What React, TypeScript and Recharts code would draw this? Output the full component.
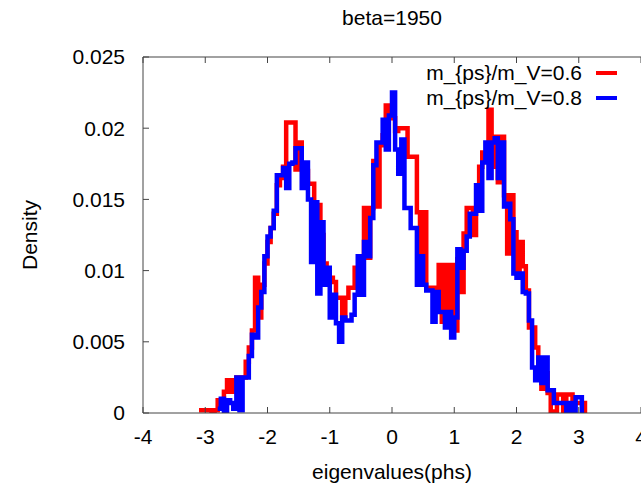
import React from 'react';
import { LineChart, Line, XAxis, YAxis, Legend } from 'recharts';

// histogram bin edges, every 0.05 from -3.10 to 3.10
const binStarts = Array.from({ length: 125 }, (_, i) => Math.round((-3.1 + 0.05 * i) * 100) / 100);

const ratio06 = [
  0.0002, 0.0002, 0.0002, 0.0002, 0, 0.0002, 0.0009, 0.0009, 0.0015, 0.0023,
  0.0015, 0.0023, 0.0025, 0.0025, 0.0025, 0.0036, 0.0046, 0.0058, 0.0095, 0.0067,
  0.009, 0.0105, 0.012, 0.013, 0.014, 0.016, 0.0165, 0.0173, 0.0204, 0.0204,
  0.0204, 0.0171, 0.019, 0.0175, 0.017, 0.0161, 0.0161, 0.0126, 0.0146, 0.0125,
  0.0105, 0.01, 0.0095, 0.0092, 0.0081, 0.0081, 0.0067, 0.0081, 0.0088, 0.0088,
  0.0102, 0.0102, 0.011, 0.0144, 0.0109, 0.0144, 0.0177, 0.0145, 0.0188, 0.0195,
  0.0216, 0.0207, 0.0207, 0.0198, 0.02, 0.02, 0.02, 0.018, 0.018, 0.018,
  0.0141, 0.011, 0.0141, 0.0088, 0.0088, 0.0088, 0.0088, 0.0104, 0.0064, 0.0104,
  0.0069, 0.0104, 0.0058, 0.0108, 0.0085, 0.0126, 0.0144, 0.0144, 0.0125, 0.0144,
  0.0173, 0.0183, 0.0183, 0.0213, 0.0173, 0.0194, 0.0162, 0.0194, 0.0153, 0.0112,
  0.0153, 0.0127, 0.0098, 0.012, 0.0103, 0.0086, 0.006, 0.006, 0.0046, 0.0028,
  0.0017, 0.0028, 0.0014, 0.0001, 0.0001, 0.0013, 0.0013, 0.0001, 0.0013, 0.0013,
  0.0007, 0.0007, 0.0007, 0.0007, 0,
];

const ratio08 = [
  null, null, null, null, null, null, 0.0003, 0.001, 0.0001, 0.0009,
  0.0007, 0.0003, 0.0025, 0.0002, 0.0025, 0.0025, 0.004, 0.0055, 0.0053, 0.0074,
  0.0085, 0.011, 0.0124, 0.013, 0.0142, 0.0167, 0.0167, 0.0172, 0.0158, 0.0175,
  0.0176, 0.0186, 0.0186, 0.0158, 0.0176, 0.015, 0.0106, 0.0148, 0.0084, 0.0134,
  0.009, 0.0102, 0.0067, 0.0083, 0.0063, 0.005, 0.0067, 0.0065, 0.0065, 0.0069,
  0.0083, 0.011, 0.0083, 0.012, 0.011, 0.0137, 0.0174, 0.019, 0.019, 0.0206,
  0.0185, 0.0209, 0.0225, 0.0185, 0.0168, 0.0192, 0.0144, 0.0144, 0.013, 0.013,
  0.009, 0.011, 0.009, 0.0086, 0.0086, 0.0064, 0.0085, 0.0071, 0.0071, 0.006,
  0.0071, 0.0053, 0.0067, 0.0115, 0.0102, 0.0114, 0.0124, 0.014, 0.014, 0.016,
  0.0142, 0.0176, 0.019, 0.0165, 0.019, 0.0193, 0.0165, 0.019, 0.0145, 0.0147,
  0.0136, 0.0098, 0.0095, 0.0098, 0.0085, 0.0084, 0.0065, 0.0032, 0.0023, 0.0039,
  0.0021, 0.0039, 0.0016, 0.0016, 0.0007, 0.0007, 0.0007, 0.0007, 0, 0.0007,
  0, 0.0011, 0.0011, 0, null,
];

const xTicks = [-4, -3, -2, -1, 0, 1, 2, 3, 4];
const yTicks = [0, 0.005, 0.01, 0.015, 0.02, 0.025];
const yTickLabels = ['0', '0.005', '0.01', '0.015', '0.02', '0.025'];
const X_DOMAIN: [number, number] = [-4, 4];
const Y_MAX = 0.025;

const data = binStarts.map((x, i) => ({ x, r06: ratio06[i], r08: ratio08[i] }));

// layout
const CHART_W = 700;
const CHART_H = 486;
const MARGIN = { top: 57, right: 59, bottom: 0, left: 0 };
const Y_AXIS_W = 143;
const X_AXIS_H = 73;
const PLOT_LEFT = MARGIN.left + Y_AXIS_W;
const PLOT_W = CHART_W - PLOT_LEFT - MARGIN.right;
const FONT = 21;
const BORDER = '#444';

const tickX = (t: number) => PLOT_LEFT + ((t - X_DOMAIN[0]) / (X_DOMAIN[1] - X_DOMAIN[0])) * PLOT_W;

const GnuLegend = ({ payload }: any) => (
  <div style={{ width: 260, fontSize: FONT }}>
    {(payload || []).map((p: any) => (
      <div key={p.value} style={{ display: 'flex', justifyContent: 'flex-end', alignItems: 'center', height: 25 }}>
        <span style={{ lineHeight: '25px' }}>{p.value}</span>
        <span style={{ display: 'inline-block', width: 21, height: 4, background: p.color, marginLeft: 14 }} />
      </div>
    ))}
  </div>
);

export default function App() {
  return (
    <div
      style={{
        position: 'absolute', left: 0, top: 0, width: 641, height: 486, overflow: 'hidden',
        background: '#fff', fontFamily: '"Liberation Sans", Arial, sans-serif',
      }}
    >
      <LineChart width={CHART_W} height={CHART_H} data={data} margin={MARGIN}>
        <text x={392} y={25} textAnchor="middle" fontSize={FONT} fill="#000">beta=1950</text>
        {/* top edge of the gnuplot box */}
        <rect x={PLOT_LEFT} y={MARGIN.top - 0.5} width={PLOT_W} height={1} fill={BORDER} />
        {xTicks.map((t) => (
          <rect key={t} x={tickX(t) - 0.5} y={MARGIN.top} width={1} height={6} fill={BORDER} />
        ))}
        <XAxis
          xAxisId="b"
          type="number"
          dataKey="x"
          domain={X_DOMAIN}
          ticks={xTicks}
          allowDataOverflow
          height={X_AXIS_H}
          tickSize={-6}
          tickMargin={22}
          stroke={BORDER}
          tick={{ fill: '#000', fontSize: FONT }}
          label={{
            content: () => (
              <text x={392} y={479} textAnchor="middle" fontSize={FONT} fill="#000">eigenvalues(phs)</text>
            ),
          }}
        />
        <YAxis
          yAxisId="l"
          type="number"
          domain={[0, Y_MAX]}
          ticks={yTicks}
          allowDataOverflow
          width={Y_AXIS_W}
          tickSize={-6}
          tickMargin={24}
          stroke={BORDER}
          tick={{ fill: '#000', fontSize: FONT }}
          tickFormatter={(v: number) => yTickLabels[yTicks.indexOf(v)] ?? String(v)}
          label={{
            content: () => (
              <text x={29} y={235} textAnchor="middle" dominantBaseline="central" fontSize={FONT} fill="#000"
                transform="rotate(-90 29 235)">Density</text>
            ),
          }}
        />
        <Legend
          layout="horizontal"
          verticalAlign="middle"
          align="center"
          content={<GnuLegend />}
          wrapperStyle={{ top: 60, left: 357, width: 260, height: 50 }}
        />
        <Line
          xAxisId="b"
          yAxisId="l"
          name="m_{ps}/m_V=0.6"
          dataKey="r06"
          type="stepAfter"
          stroke="#ff0000"
          strokeWidth={4.5}
          dot={false}
          legendType="line"
          isAnimationActive={false}
        />
        <Line
          xAxisId="b"
          yAxisId="l"
          name="m_{ps}/m_V=0.8"
          dataKey="r08"
          type="stepAfter"
          stroke="#0000ff"
          strokeWidth={4.5}
          dot={false}
          legendType="line"
          isAnimationActive={false}
        />
      </LineChart>
    </div>
  );
}
